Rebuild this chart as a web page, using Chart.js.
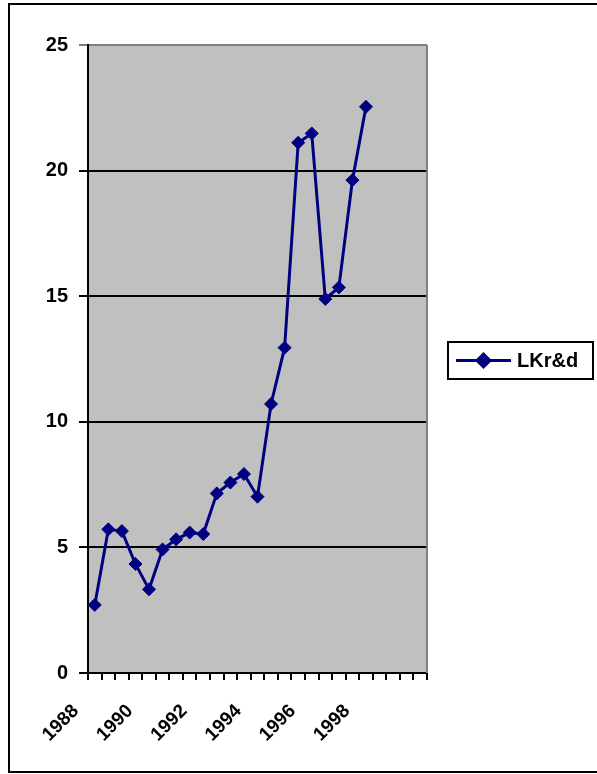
<!DOCTYPE html>
<html>
<head>
<meta charset="utf-8">
<script src="https://cdn.jsdelivr.net/npm/chart.js@4.4.1/dist/chart.umd.min.js"></script>
<style>
  html, body { margin: 0; padding: 0; background: #fff; }
  #wrap { width: 597px; height: 774px; position: relative; }
</style>
</head>
<body>
<div id="wrap"><canvas id="rdChart" width="597" height="774"></canvas></div>
<script>
// half-year categories, a label every second year
const periodLabels = ['1988', '', '', '', '1990', '', '', '', '1992', '', '', '', '1994', '', '', '',
                      '1996', '', '', '', '1998', '', '', '', ''];
const lkrdValues = [2.71, 5.72, 5.65, 4.34, 3.33, 4.92, 5.32, 5.59, 5.53, 7.15, 7.58,
                    7.92, 7.02, 10.71, 12.95, 21.11, 21.48, 14.89, 15.35, 19.62, 22.54];
const yTickValues = [0, 5, 10, 15, 20, 25];
const seriesName = 'LKr&d';

const NAVY = '#000080';
const FONT = 'Liberation Sans, Arial, sans-serif';

// gray plot area, outer frame and boxed legend (old spreadsheet look)
const sheetFrame = {
    id: 'sheetFrame',
    beforeDraw(chart) {
        const { ctx, chartArea: a } = chart;
        ctx.save();
        ctx.fillStyle = '#fff';
        ctx.fillRect(0, 0, chart.width, chart.height);
        ctx.fillStyle = '#c0c0c0';
        ctx.fillRect(a.left, a.top, a.right - a.left, a.bottom - a.top);
        ctx.restore();
    },
    beforeDatasetsDraw(chart) {
        const { ctx, chartArea: a } = chart;
        ctx.save();
        ctx.strokeStyle = '#808080';
        ctx.lineWidth = 2;
        ctx.beginPath();
        ctx.moveTo(a.right, a.top);
        ctx.lineTo(a.right, a.bottom);
        ctx.stroke();
        ctx.restore();
    },
    afterDraw(chart) {
        const ctx = chart.ctx;
        ctx.save();
        ctx.strokeStyle = '#000';
        ctx.lineWidth = 2;
        ctx.strokeRect(9, 4, 600, 768);

        // legend box
        const bx = 448, by = 342, bw = 145, bh = 37;
        const cy = by + bh / 2;
        ctx.fillStyle = '#fff';
        ctx.fillRect(bx, by, bw, bh);
        ctx.strokeRect(bx, by, bw, bh);
        ctx.strokeStyle = NAVY;
        ctx.lineWidth = 3;
        ctx.beginPath();
        ctx.moveTo(456, cy);
        ctx.lineTo(511, cy);
        ctx.stroke();
        Chart.helpers.drawPoint(ctx, {
            pointStyle: 'rectRot', radius: 6.5, borderWidth: 1
        }, 483.5, cy);
        ctx.fillStyle = NAVY;
        ctx.fill();
        ctx.fillStyle = '#000';
        ctx.font = 'bold 20px ' + FONT;
        ctx.textBaseline = 'middle';
        ctx.fillText(chart.data.datasets[0].label, 517, cy + 1);
        ctx.restore();
    }
};

new Chart(document.getElementById('rdChart'), {
    type: 'line',
    data: {
        labels: periodLabels,
        datasets: [{
            label: seriesName,
            data: lkrdValues,
            borderColor: NAVY,
            borderWidth: 3,
            tension: 0,
            pointStyle: 'rectRot',
            pointRadius: 6.5,
            pointBackgroundColor: NAVY,
            pointBorderColor: NAVY,
            pointBorderWidth: 1
        }]
    },
    options: {
        responsive: false,
        animation: false,
        layout: { padding: { left: 0, top: 45, right: 170, bottom: 0 } },
        plugins: {
            legend: { display: false },
            tooltip: { enabled: false }
        },
        scales: {
            x: {
                type: 'category',
                offset: true,
                afterFit(scale) { scale.height = 101; },
                grid: {
                    offset: true,
                    drawOnChartArea: false,
                    drawTicks: true,
                    tickLength: 7,
                    color: '#000',
                    lineWidth: 2
                },
                border: { display: true, color: '#000', width: 2 },
                ticks: {
                    autoSkip: false,
                    maxRotation: 45,
                    minRotation: 45,
                    padding: 20,
                    labelOffset: -19,
                    color: '#000',
                    font: { family: FONT, size: 19, weight: 'bold' }
                }
            },
            y: {
                min: 0,
                max: 25,
                afterFit(scale) { scale.width = 88; },
                afterBuildTicks(scale) {
                    scale.ticks = yTickValues.map(v => ({ value: v }));
                },
                grid: {
                    color: ctx => (ctx.tick && ctx.tick.value === 25) ? '#808080' : '#000',
                    lineWidth: 2,
                    tickLength: 9
                },
                border: { display: true, color: '#000', width: 2 },
                ticks: {
                    padding: 11,
                    color: '#000',
                    font: { family: FONT, size: 20, weight: 'bold' }
                }
            }
        }
    },
    plugins: [sheetFrame]
});
</script>
</body>
</html>
